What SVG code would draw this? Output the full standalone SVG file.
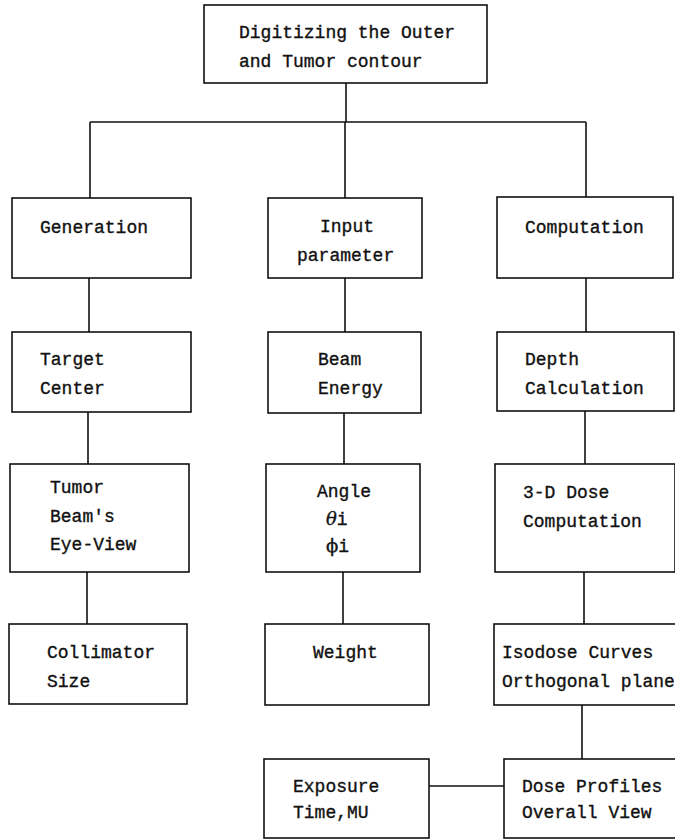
<svg xmlns="http://www.w3.org/2000/svg" width="675" height="840" viewBox="0 0 675 840">
<style>
.box{fill:#fff;stroke:#111;stroke-width:1.6}
.ln{fill:none;stroke:#111;stroke-width:1.6}
text{font-family:"Liberation Mono","DejaVu Sans Mono",monospace;font-size:18px;fill:#111;stroke:#111;stroke-width:0.35}
.g{font-family:"DejaVu Serif","Liberation Serif",serif;font-style:italic}
.p{font-family:"DejaVu Serif","Liberation Serif",serif}
</style>
<rect width="675" height="840" fill="#fff"/>
<g id="connectors">
<path class="ln" d="M346 83V122M90 122H586M90 122V198M345 122V198M586 122V197"/>
<path class="ln" d="M89 278V332M345 278V332M586 278V332"/>
<path class="ln" d="M88 412V464M344 413V464M585 411V464"/>
<path class="ln" d="M87 572V624M343 572V624M584 572V624"/>
<path class="ln" d="M582 705V759M429 786H504"/>
</g>
<g id="n-digitize"><rect class="box" x="204" y="5" width="283" height="78"/><text x="239" y="38">Digitizing the Outer</text><text x="239" y="67">and Tumor contour</text></g>
<g id="n-generation"><rect class="box" x="12" y="198" width="179" height="80"/><text x="40" y="233">Generation</text></g>
<g id="n-input"><rect class="box" x="268" y="198" width="154" height="80"/><text x="320" y="232">Input</text><text x="297" y="261">parameter</text></g>
<g id="n-computation"><rect class="box" x="497" y="197" width="176" height="81"/><text x="525" y="233">Computation</text></g>
<g id="n-target"><rect class="box" x="12" y="332" width="179" height="80"/><text x="40" y="365">Target</text><text x="40" y="394">Center</text></g>
<g id="n-beam"><rect class="box" x="268" y="332" width="153" height="81"/><text x="318" y="365">Beam</text><text x="318" y="394">Energy</text></g>
<g id="n-depth"><rect class="box" x="497" y="332" width="177" height="79"/><text x="525" y="365">Depth</text><text x="525" y="394">Calculation</text></g>
<g id="n-tumor"><rect class="box" x="10" y="464" width="179" height="108"/><text x="50" y="493">Tumor</text><text x="50" y="522">Beam's</text><text x="50" y="550">Eye-View</text></g>
<g id="n-angle"><rect class="box" x="266" y="464" width="154" height="108"/><text x="317" y="497">Angle</text><text x="326" y="525"><tspan class="g">θ</tspan>i</text><text x="326" y="552"><tspan class="p">ϕ</tspan>i</text></g>
<g id="n-3d"><rect class="box" x="495" y="464" width="180" height="108"/><text x="523" y="498">3-D Dose</text><text x="523" y="527">Computation</text></g>
<g id="n-collimator"><rect class="box" x="9" y="624" width="178" height="80"/><text x="47" y="658">Collimator</text><text x="47" y="687">Size</text></g>
<g id="n-weight"><rect class="box" x="265" y="624" width="164" height="81"/><text x="313" y="658">Weight</text></g>
<g id="n-isodose"><rect class="box" x="494" y="624" width="190" height="81"/><text x="502" y="658">Isodose Curves</text><text x="502" y="687">Orthogonal plane</text></g>
<g id="n-exposure"><rect class="box" x="264" y="759" width="165" height="79"/><text x="293" y="792">Exposure</text><text x="293" y="818">Time,MU</text></g>
<g id="n-doseprofiles"><rect class="box" x="504" y="759" width="180" height="79"/><text x="522" y="792">Dose Profiles</text><text x="522" y="818">Overall View</text></g>
</svg>
